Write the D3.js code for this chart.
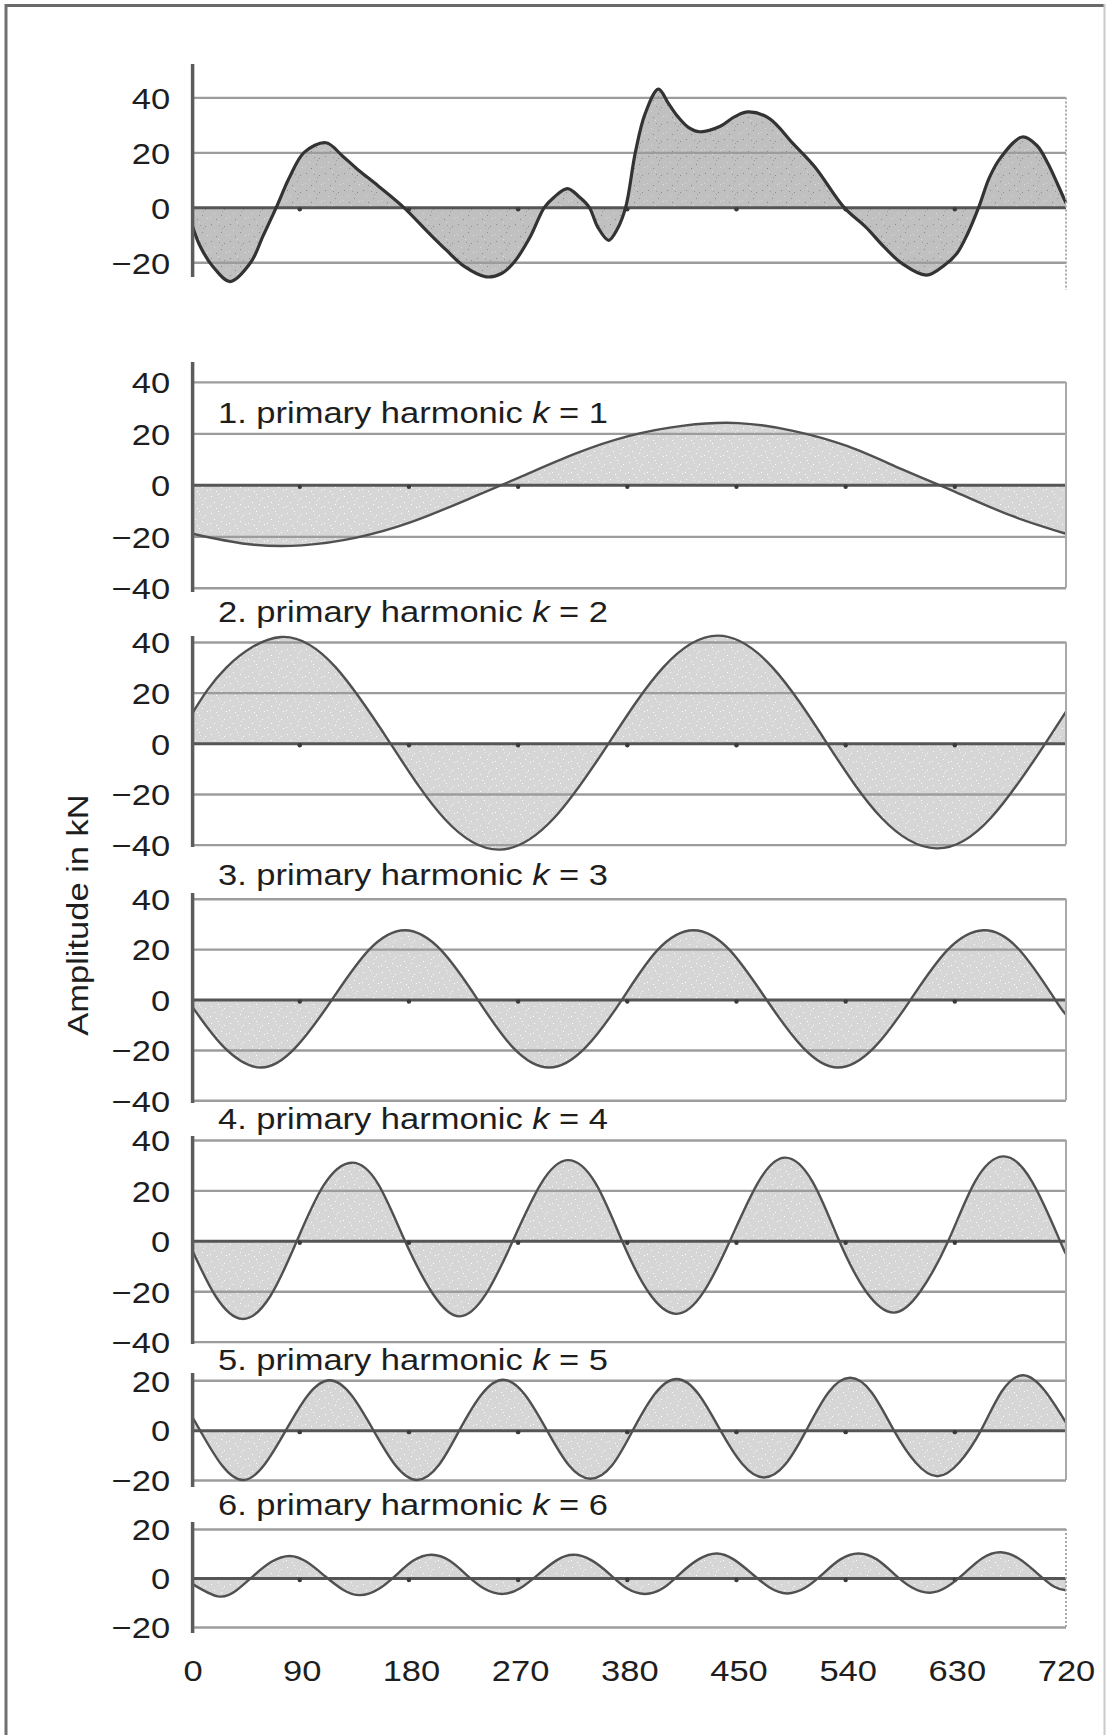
<!DOCTYPE html>
<html>
<head>
<meta charset="utf-8">
<script src="https://cdn.jsdelivr.net/npm/d3@7"></script>
<style>
  html, body { margin: 0; padding: 0; background: #fff; }
  svg { display: block; }
  text { font-family: "Liberation Sans", Arial, Helvetica, sans-serif; fill: #1e1e1e; }
</style>
</head>
<body>
<svg id="chart" width="1108" height="1735"></svg>
<script>
// ---- Data: crank angle (degrees) and amplitude (kN) ----
const totalAngles = [0,6,17,31,48,58,69,80,92,110,124,136,153,174,194,209,224,242,255,265,278,290,298,309,319,327,334,343,350,357,365,373,384,392,400,409,418,435,447,458,475,495,513,537,555,570,585,605,620,630,639,648,657,666,684,696,705,713,720];
const totalValues = [-7,-14,-21.7,-27,-20,-10.5,0,11,20,23.5,18.5,13.8,7.8,0,-9,-15.5,-21.5,-25.3,-24,-20,-11,0,3.7,6.8,3.7,0,-7.2,-12,-8,0,20,34,43,38,33,29,27.5,29.5,33,34.7,32.5,23.2,14.7,0,-7.2,-14.4,-20.5,-24.7,-21,-16.8,-9.5,0,11,18,25.6,22.5,16,8.5,1.5];

const h1Angles = [0,45,90,135,180,225,270,315,360,405,450,495,540,585,630,675,720];
const h1Values = [-19,-23,-23.5,-20.5,-14.5,-6,3,12,19,23,24,21,15,6,-3,-12,-19];

const h2Angles = [0,28,73,118,163,208,253,298,343,388,433,478,523,568,613,658,703,720];
const h2Values = [12,30,42,30,0,-30,-42,-29.5,0,30,42.5,30,0,-29.5,-41.5,-29.5,0,12.5];

const h3Angles = [0,26,56,85,115,145,175,205,235,264,294,324,354,383,413,443,473,503,532,562,592,622,652,682,711,720];
const h3Values = [-3,-19,-27,-19,0,19.5,27.5,19.5,0,-19,-27,-19,0,19.5,27.5,19.5,0,-19,-27,-19,0,19.5,27.5,19.5,0,-6];

const h4Angles = [0,19,41,64,86,108,131,153,175,198,220,242,264,287,309,332,354,376,399,421,443,466,488,511,533,555,578,600,623,645,668,692,715,720];
const h4Values = [-4,-22,-31,-22,0,22,31,22.5,0,-21,-30,-21,0,22.5,32,23,0,-20.5,-29,-20.5,0,23,33,23.5,0,-20,-28.5,-20,0,23.5,33.5,23.5,0,-5];

const h5Angles = [0,6,24,42,59,77,95,113,131,149,167,185,203,220,238,256,274,292,310,328,346,363,381,399,417,435,453,471,489,506,524,542,560,578,596,614,632,650,667,685,703,720];
const h5Values = [5,0,-14,-20,-14,0,14,20,14,0,-14,-20,-14,0,14.2,20.2,14.2,0,-14,-19.5,-14,0,14.5,20.5,14.5,0,-13.5,-19,-13.5,0,15,21,15,0,-13,-18.5,-13,0,15.5,22,15.5,3];

const h6Angles = [0,21,36,50,65,80,94,109,124,138,153,168,182,197,212,226,241,256,270,285,300,314,329,344,358,373,388,402,417,432,446,461,476,490,505,520,534,549,564,578,593,608,622,637,651,666,681,695,710,720];
const h6Values = [-2.5,-7.5,-5.1,0.8,6.6,9,6.6,0.8,-4.8,-7,-4.6,1.3,7.1,9.5,7,1.2,-4.5,-6.5,-4.2,1.5,7.2,9.5,7.2,1.5,-4.2,-6.5,-4.1,1.8,7.6,10,7.6,1.8,-4,-6.3,-4,1.9,7.6,10,7.6,1.8,-3.9,-6,-3.6,2.3,8.1,10.5,8,2.5,-3.5,-5];

const harmonicOrders = [1, 2, 3, 4, 5, 6];
const ticksTop = [40, 20, 0, -20];
const ticksWide = [40, 20, 0, -20, -40];
const ticksNarrow = [20, 0, -20];
const xTickValues = [0, 90, 180, 270, 360, 450, 540, 630, 720];
const xTickLabels = ["0", "90", "180", "270", "380", "450", "540", "630", "720"];
const yAxisTitle = "Amplitude in kN";

// ---- Series definitions (data only) ----
const series = [
  { angles: totalAngles, values: totalValues, domain: [-20, 40], ticks: ticksTop, order: null },
  { angles: h1Angles, values: h1Values, domain: [-40, 40], ticks: ticksWide, order: harmonicOrders[0] },
  { angles: h2Angles, values: h2Values, domain: [-40, 40], ticks: ticksWide, order: harmonicOrders[1] },
  { angles: h3Angles, values: h3Values, domain: [-40, 40], ticks: ticksWide, order: harmonicOrders[2] },
  { angles: h4Angles, values: h4Values, domain: [-40, 40], ticks: ticksWide, order: harmonicOrders[3] },
  { angles: h5Angles, values: h5Values, domain: [-20, 20], ticks: ticksNarrow, order: harmonicOrders[4] },
  { angles: h6Angles, values: h6Values, domain: [-20, 20], ticks: ticksNarrow, order: harmonicOrders[5] }
];

// ---- Layout of the stacked panels (pixels) ----
const frames = [
  { yTop: 97.4,   yBottom: 262.3,  axisTop: 64,   axisBottom: 277,  borderTop: 97.4,   borderBottom: 290,    titleY: null },
  { yTop: 381.9,  yBottom: 587.8,  axisTop: 362,  axisBottom: 592,  borderTop: 381.9,  borderBottom: 587.8,  titleY: 423 },
  { yTop: 642,    yBottom: 844.6,  axisTop: 636,  axisBottom: 847,  borderTop: 642,    borderBottom: 844.6,  titleY: 622 },
  { yTop: 898.8,  yBottom: 1100.3, axisTop: 893,  axisBottom: 1103, borderTop: 898.8,  borderBottom: 1100.3, titleY: 885 },
  { yTop: 1140,   yBottom: 1341.6, axisTop: 1136, axisBottom: 1344, borderTop: 1140,   borderBottom: 1341.6, titleY: 1129 },
  { yTop: 1380.3, yBottom: 1480,   axisTop: 1373, axisBottom: 1487, borderTop: 1341.6, borderBottom: 1480,   titleY: 1370 },
  { yTop: 1529,   yBottom: 1627,   axisTop: 1522, axisBottom: 1633, borderTop: 1529,   borderBottom: 1627,   titleY: 1515 }
];

const SX = 1.15;            // horizontal stretch of the lettering
const FONT = 30;
const svg = d3.select("#chart");
const x = d3.scaleLinear().domain([0, 720]).range([192.6, 1066]);
const [x0, x1] = x.range();

// ---- Stipple fills ----
const defs = svg.append("defs");
function stipple(id, base, dots) {
  const p = defs.append("pattern").attr("id", id)
    .attr("patternUnits", "userSpaceOnUse").attr("width", 19).attr("height", 17);
  p.append("rect").attr("width", 19).attr("height", 17).attr("fill", base);
  dots.forEach(([px, py, c]) => p.append("rect")
    .attr("x", px).attr("y", py).attr("width", 1).attr("height", 1).attr("fill", c));
}
stipple("fillLight", "#d6d6d6", [
  [2,3,"#fff"],[9,1,"#fff"],[15,5,"#fff"],[5,9,"#fff"],[12,11,"#fff"],
  [17,14,"#fff"],[7,15,"#fff"],[1,13,"#fff"],[13,7,"#f4f4f4"],[10,4,"#ececec"]
]);
stipple("fillDark", "#c0c0c0", [
  [2,3,"#8a8a8a"],[9,1,"#dedede"],[15,5,"#8a8a8a"],[5,9,"#dadada"],[12,11,"#8c8c8c"],
  [17,14,"#e0e0e0"],[7,15,"#888"],[1,13,"#d8d8d8"],[13,7,"#9c9c9c"],[10,4,"#969696"]
]);

// ---- Outer frame ----
svg.append("line").attr("x1", 5).attr("x2", 1105).attr("y1", 5.5).attr("y2", 5.5)
  .attr("stroke", "#6a6a6a").attr("stroke-width", 3);
svg.append("line").attr("x1", 6).attr("x2", 6).attr("y1", 4).attr("y2", 1735)
  .attr("stroke", "#707070").attr("stroke-width", 3);
svg.append("line").attr("x1", 1104.5).attr("x2", 1104.5).attr("y1", 4).attr("y2", 1735)
  .attr("stroke", "#c9c9c9").attr("stroke-width", 2);

// ---- Panels ----
series.forEach((s, i) => {
  const f = frames[i];
  const isTotal = s.order === null;
  const y = d3.scaleLinear().domain(s.domain).range([f.yBottom, f.yTop]);
  const g = svg.append("g");
  const pts = s.angles.map((a, j) => [a, s.values[j]]);
  const curve = isTotal ? d3.curveCatmullRom.alpha(0.5) : d3.curveNatural;

  // filled area between the curve and the zero line
  const area = d3.area().curve(curve)
    .x(d => x(d[0])).y0(y(0)).y1(d => y(d[1]));
  g.append("path").datum(pts).attr("d", area)
    .attr("fill", isTotal ? "url(#fillDark)" : "url(#fillLight)");

  // horizontal gridlines
  const grid = g.append("g").attr("transform", `translate(${x0},0)`)
    .call(d3.axisRight(y).tickValues(s.ticks).tickSize(x1 - x0).tickFormat(""));
  grid.select(".domain").remove();
  grid.selectAll(".tick line")
    .attr("stroke", d => d === 0 ? "#555" : "#9c9c9c")
    .attr("stroke-width", d => d === 0 ? 3 : 2.4);

  // small marks on the zero line
  g.selectAll("circle.mark").data(xTickValues.slice(1, -1)).join("circle")
    .attr("class", "mark").attr("cx", d => x(d) - 2).attr("cy", y(0) + 2)
    .attr("r", 2.2).attr("fill", "#3a3a3a");

  // curve
  const line = d3.line().curve(curve).x(d => x(d[0])).y(d => y(d[1]));
  g.append("path").datum(pts).attr("d", line).attr("fill", "none")
    .attr("stroke", isTotal ? "#333" : "#505050")
    .attr("stroke-width", isTotal ? 3.2 : 2.4)
    .attr("stroke-linejoin", "round");

  // right border
  g.append("line").attr("x1", x1).attr("x2", x1)
    .attr("y1", f.borderTop).attr("y2", f.borderBottom)
    .attr("stroke", "#a9a9a9").attr("stroke-width", 2)
    .attr("stroke-dasharray", isTotal || i === 6 ? "2,2" : null);

  // left axis line
  g.append("line").attr("x1", x0).attr("x2", x0)
    .attr("y1", f.axisTop).attr("y2", f.axisBottom)
    .attr("stroke", "#5c5c5c").attr("stroke-width", 3.5);

  // tick labels
  const yAxis = g.append("g").attr("transform", `translate(${x0},0)`)
    .call(d3.axisLeft(y).tickValues(s.ticks).tickSize(0)
      .tickFormat(d => d < 0 ? "\u2212" + Math.abs(d) : String(d)));
  yAxis.select(".domain").remove();
  yAxis.selectAll(".tick text")
    .attr("x", null).attr("dy", "0.36em")
    .attr("transform", `translate(-22.5,0) scale(${SX},1)`)
    .attr("text-anchor", "end")
    .style("font-size", FONT + "px").style("font-family", null).attr("fill", "#1e1e1e");

  // panel title
  if (!isTotal) {
    const t = g.append("text")
      .attr("transform", `translate(218,${f.titleY}) scale(${SX},1)`)
      .style("font-size", FONT + "px");
    t.append("tspan").text(`${s.order}. primary harmonic `);
    t.append("tspan").style("font-style", "italic").text("k");
    t.append("tspan").text(` = ${s.order}`);
  }
});

// ---- Shared x axis ----
const xAxis = svg.append("g").attr("transform", "translate(0,1640)")
  .call(d3.axisBottom(x).tickValues(xTickValues).tickSize(0)
    .tickFormat((d, i) => xTickLabels[i]));
xAxis.select(".domain").remove();
xAxis.selectAll(".tick text")
  .attr("y", null).attr("dy", null)
  .attr("transform", `translate(0,41) scale(${SX},1)`)
  .attr("text-anchor", "middle")
  .style("font-size", FONT + "px").style("font-family", null).attr("fill", "#1e1e1e");

// ---- Y axis title ----
svg.append("text")
  .attr("transform", `translate(88,915) rotate(-90) scale(${SX},1)`)
  .attr("text-anchor", "middle")
  .style("font-size", FONT + "px")
  .text(yAxisTitle);
</script>
</body>
</html>
